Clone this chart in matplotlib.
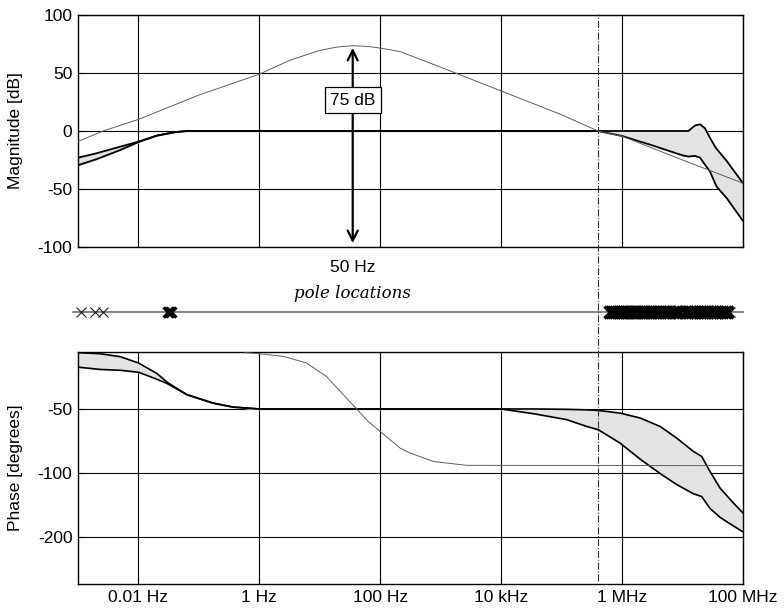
import numpy as np
import matplotlib
matplotlib.use('Agg')
import matplotlib.pyplot as plt
from matplotlib.lines import Line2D
from matplotlib.ticker import NullLocator
import matplotlib.transforms as mtransforms

plt.rcParams['font.family'] = ['Liberation Sans', 'DejaVu Sans']
plt.rcParams['axes.unicode_minus'] = False

# --- magnitude: reference curve (thin gray) ---
f_mag_ref = [1e-3, 2.6e-3, 1e-2, 1e-1, 1, 3.2, 10, 20, 34, 60, 100, 214, 500, 1e3, 1e4, 1e5,
             4e5, 1e6, 1e7, 1e8]
mag_ref = [-9, 0, 10, 31, 49, 61, 69.5, 72.5, 73.5, 73, 71.5, 68.4, 61, 55, 34.5, 14,
           0, -4.5, -25, -45]

# --- magnitude: uncertainty band (upper / lower) ---
f_mag_band = [1e-3, 2e-3, 5e-3, 1e-2, 2e-2, 4e-2, 6.3e-2, 4e5, 1e6, 3e6, 1e7, 1.25e7, 1.6e7,
              1.95e7, 2.35e7, 2.85e7, 3.45e7, 3.67e7, 5.4e7, 1e8]
mag_upper = [-23, -19.3, -13.5, -9.2, -4, -1, 0, 0, 0, 0, 0, 0, 4.7,
             5.8, 2.3, -6, -13.5, -15.5, -26, -45]
mag_lower = [-29.5, -24.4, -16.4, -9.5, -4, -1, 0, 0, -4.3, -12, -21, -22, -21.5,
             -23, -29, -35, -45, -48, -58, -77.6]

# --- phase: reference curve ---
f_ph_ref = [0.58, 1.0, 2.5, 6, 12.9, 22.9, 40.7, 63, 99, 145, 212, 310, 755, 2690, 1e8]
ph_ref = [-27.2, -27.5, -28.3, -30.4, -35.2, -42, -50, -57.2, -63.7, -69.7, -76.3, -80.5,
          -88.2, -92, -92.3]

# --- phase: band ---
f_ph_band = [1e-3, 2.3e-3, 5e-3, 1e-2, 2e-2, 3e-2, 6.3e-2, 0.17, 0.37, 1.0, 1e4, 3.4e4, 1.21e5,
             2.6e5, 4.05e5, 9.25e5, 1.98e6, 4.25e6, 8e6, 1.5e7, 2.07e7, 2.85e7, 4.17e7, 6.9e7, 1e8]
ph_upper = [-27.2, -27.5, -28.4, -30.4, -34, -37.5, -42.8, -46.9, -49, -50, -50, -50, -50.2,
            -50.5, -50.8, -52.3, -55.1, -60.4, -68.5, -79, -83.5, -98.4, -117.7, -138, -154]
ph_lower = [-31.8, -32.6, -32.9, -33.6, -36.2, -38, -42.8, -46.9, -49, -50, -50, -52.6, -56.1,
            -60.4, -62.6, -72.3, -85.9, -100.5, -113.2, -124.9, -128.9, -146.7, -161.4, -177, -189]

# --- pole locations (Hz) ---
poles_thin = [1.11e-3, 1.91e-3, 2.56e-3, 6.1e7]
poles_bold = [3.1e-2, 3.24e-2, 3.4e-2]
poles_dense = [6.3e5, 6.8e5, 7.3e5, 7.9e5, 8.5e5, 9.2e5, 1.0e6, 1.08e6, 1.17e6, 1.27e6, 1.38e6,
               1.5e6, 1.63e6, 1.77e6, 1.92e6, 2.1e6, 2.3e6, 2.5e6, 2.75e6, 3.0e6, 3.3e6, 3.6e6,
               3.95e6, 4.3e6, 4.7e6, 5.2e6, 5.7e6, 6.3e6, 7.0e6, 7.8e6, 8.6e6, 1.1e7, 1.2e7,
               1.32e7, 1.45e7, 1.6e7, 1.75e7, 1.92e7, 2.1e7, 2.3e7, 2.55e7, 2.8e7, 3.1e7, 3.4e7,
               3.75e7, 4.1e7, 4.5e7, 4.95e7, 5.4e7]

f_cross = 4.05e5
f_peak = 35
x_ticks = [1e-2, 1, 1e2, 1e4, 1e6, 1e8]
x_labels = ['0.01 Hz', '1 Hz', '100 Hz', '10 kHz', '1 MHz', '100 MHz']
fs = 12.5

fig = plt.figure(figsize=(7.84, 6.12), dpi=100)
L, W = 78 / 784, 665 / 784
ax1 = fig.add_axes([L, 1 - 247 / 612, W, 232 / 612])
ax2 = fig.add_axes([L, 1 - 330 / 612, W, 36 / 612])
ax3 = fig.add_axes([L, 1 - 584 / 612, W, 232 / 612])

for ax in (ax1, ax3):
    ax.set_xscale('log')
    ax.set_xlim(1e-3, 1e8)
    ax.set_xticks(x_ticks)
    ax.xaxis.set_minor_locator(NullLocator())
    ax.grid(True, color='black', lw=0.8)
    ax.tick_params(direction='in', length=4, top=True, right=True, labelsize=fs, pad=4)
    for s in ax.spines.values():
        s.set_linewidth(1.0)

# magnitude
ax1.fill_between(f_mag_band, mag_upper, mag_lower, color='#e3e3e3', zorder=2)
ax1.plot(f_mag_band, mag_upper, color='black', lw=1.3, zorder=3)
ax1.plot(f_mag_band, mag_lower, color='black', lw=1.3, zorder=3)
ax1.plot(f_mag_ref, mag_ref, color='#606060', lw=0.7, zorder=4)
ax1.set_ylim(-100, 100)
ax1.set_yticks([100, 50, 0, -50, -100])
ax1.set_xticklabels([])
ax1.set_ylabel('Magnitude [dB]', fontsize=fs)
ax1.yaxis.set_label_coords(-0.083, 0.5)
ax1.annotate('', xy=(f_peak, 74), xytext=(f_peak, -99),
             arrowprops=dict(arrowstyle='<->', color='black', lw=1.6, mutation_scale=18),
             zorder=5)
ax1.text(f_peak, 26.7, '75 dB', ha='center', va='center', fontsize=fs, zorder=6,
         bbox=dict(boxstyle='square,pad=0.3', fc='white', ec='black', lw=0.9))

# phase (log scale on |phase|)
ax3.set_yscale('log')
ax3.fill_between(f_ph_band, -np.array(ph_upper), -np.array(ph_lower), color='#e3e3e3', zorder=2)
ax3.plot(f_ph_band, -np.array(ph_upper), color='black', lw=1.2, zorder=3)
ax3.plot(f_ph_band, -np.array(ph_lower), color='black', lw=1.2, zorder=3)
ax3.plot(f_ph_ref, -np.array(ph_ref), color='#606060', lw=0.7, zorder=4)
ax3.set_ylim(332, 27)
ax3.set_yticks([50, 100, 200])
ax3.set_yticklabels(['-50', '-100', '-200'])
ax3.yaxis.set_minor_locator(NullLocator())
ax3.set_xticklabels(x_labels)
ax3.set_ylabel('Phase [degrees]', fontsize=fs)
ax3.yaxis.set_label_coords(-0.083, 0.5)

# pole strip
ax2.set_xscale('log')
ax2.set_xlim(1e-3, 1e8)
ax2.set_ylim(-1, 1)
ax2.axis('off')
ax2.plot([8.2e-4, 1e8], [0, 0], color='#707070', lw=1.2, clip_on=False)
ax2.plot(poles_thin, [0] * len(poles_thin), 'x', color='#202020', ms=7, mew=0.8, clip_on=False)
ax2.plot(poles_bold, [0] * len(poles_bold), 'x', color='black', ms=7, mew=2.2)
ax2.plot(poles_dense, [0] * len(poles_dense), 'x', color='black', ms=9, mew=2.5)
ax2.text(f_peak, 1.05, 'pole locations', ha='center', va='center',
         family='DejaVu Serif', style='italic', fontsize=12)

trans = mtransforms.blended_transform_factory(ax1.transData, fig.transFigure)
fig.text(f_peak, 1 - 268 / 612, '50 Hz', transform=trans, ha='center', va='center', fontsize=fs)
fig.add_artist(Line2D([f_cross, f_cross], [1 - 581 / 612, 1 - 14 / 612], transform=trans,
                      color='#303030', lw=0.8, ls='-.'))

fig.savefig('out.png', dpi=100)
